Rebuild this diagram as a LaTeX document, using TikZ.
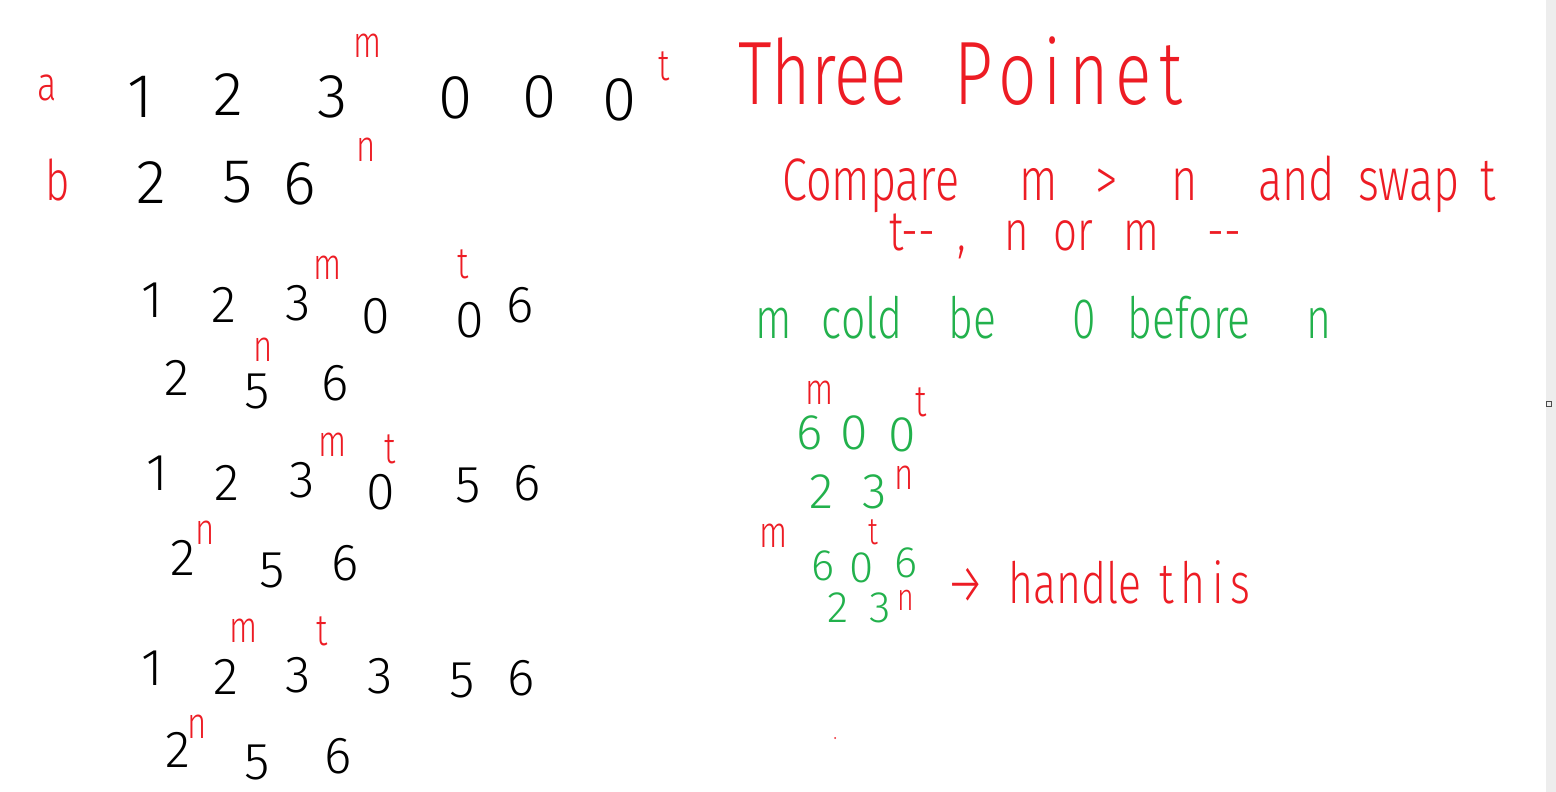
\documentclass[tikz,border=0pt]{standalone}
\usepackage{fontspec}
\newfontfamily\hand{Fira Sans Light}[FakeStretch=0.75]
\newfontfamily\digits{Fira Sans Light}
\definecolor{penred}{RGB}{237,28,36}
\definecolor{pengreen}{RGB}{34,177,76}

\begin{document}
\begin{tikzpicture}[x=1pt, y=-1pt,
  digit/.style={font=\digits\fontsize{#1}{#1}\selectfont, inner sep=0pt},
  digit/.default=52,
  ptr/.style={font=\hand\fontsize{44}{44}\selectfont, text=penred, inner sep=0pt},
  note/.style={font=\hand\fontsize{60}{60}\selectfont, text=penred, anchor=base west, inner sep=0pt},
  aside/.style={font=\hand\fontsize{57}{57}\selectfont, text=pengreen, anchor=base west, inner sep=0pt}]
\useasboundingbox (0,0) rectangle (1556,792);
\fill[white] (0,0) rectangle (1556,792);
\fill[black!7] (1546,0) rectangle (1556,792);
\draw[black!70, line width=0.8pt] (1546.5,401.5) rectangle (1551,406);

% the two input arrays
\node[ptr, font=\hand\fontsize{48}{48}\selectfont] (la) at (47,88) {a};
\node[ptr, font=\hand\fontsize{56}{56}\selectfont] (lb) at (58,180) {b};
\foreach \v/\x/\y [count=\i] in {1/140/97, 2/228/95, 3/333/97, 0/456/98, 0/540/97, 0/620/100}
  \node[digit=62] (a\i) at (\x,\y) {\v};
\foreach \v/\x/\y [count=\i] in {2/151/183, 5/238/182, 6/300/184}
  \node[digit=62] (b\i) at (\x,\y) {\v};
\node[ptr] (am) at (368,46) {m};
\node[ptr] (at) at (664,66) {t};
\node[ptr] (bn) at (366,150) {n};

% steps of the merge
\foreach \v/\x/\y [count=\i] in {1/152/300, 2/224/305, 3/298/303, 0/376/316, 0/470/320, 6/520/305}
  \node[digit] (p\i) at (\x,\y) {\v};
\foreach \v/\x/\y [count=\i] in {2/177/378, 5/257/391, 6/335/383}
  \node[digit] (q\i) at (\x,\y) {\v};
\node[ptr] (pm) at (328,268) {m};
\node[ptr] (pt) at (463,264) {t};
\node[ptr] (qn) at (263,350) {n};

\foreach \v/\x/\y [count=\i] in {1/157/473, 2/227/483, 3/302/480, 0/381/492, 5/468/485, 6/527/483}
  \node[digit] (r\i) at (\x,\y) {\v};
\foreach \v/\x/\y [count=\i] in {2/183/558, 5/272/570, 6/345/563}
  \node[digit] (s\i) at (\x,\y) {\v};
\node[ptr] (rm) at (333,445) {m};
\node[ptr] (rt) at (390,449) {t};
\node[ptr] (sn) at (205,533) {n};

\foreach \v/\x/\y [count=\i] in {1/152/668, 2/226/677, 3/298/675, 3/380/676, 5/462/680, 6/521/678}
  \node[digit] (u\i) at (\x,\y) {\v};
\foreach \v/\x/\y [count=\i] in {2/178/750, 5/257/762, 6/338/756}
  \node[digit] (w\i) at (\x,\y) {\v};
\node[ptr] (um) at (244,631) {m};
\node[ptr] (ut) at (322,631) {t};
\node[ptr] (wn) at (197,727) {n};
\fill[penred] (835,738) circle (1);

% notes on the right
\node[note, font=\hand\fontsize{90}{90}\selectfont] (title) at (738,104) {Three\hspace{48pt}{\addfontfeature{LetterSpace=8}Poinet}};
\node[note] (rule) at (782,200) {Compare\hspace{60pt}m\hspace{38pt}>\hspace{53pt}n\hspace{61pt}and\hspace{23pt}swap\hspace{20pt}t};
\node[note, font=\hand\fontsize{56}{56}\selectfont] (step) at (889,250) {t-{}-\hspace{22pt},\hspace{38pt}n\hspace{25pt}or\hspace{30pt}m\hspace{48pt}-{}-};
\node[aside] (hint) at (755,338) {m\hspace{30pt}cold\hspace{46pt}be\hspace{76pt}0\hspace{32pt}before\hspace{56pt}n};

% edge cases
\foreach \v/\x/\y [count=\i] in {6/810/433, 0/854/433, 0/902/435}
  \node[digit=50, text=pengreen] (c\i) at (\x,\y) {\v};
\foreach \v/\x/\y [count=\i] in {2/821/492, 3/875/492}
  \node[digit=50, text=pengreen] (d\i) at (\x,\y) {\v};
\node[ptr] (cm) at (820,393) {m};
\node[ptr] (ct) at (921,402) {t};
\node[ptr] (dn) at (904,478) {n};

\foreach \v/\x/\y [count=\i] in {6/823/566, 0/862/568, 6/906/563}
  \node[digit=44, text=pengreen] (e\i) at (\x,\y) {\v};
\foreach \v/\x/\y [count=\i] in {2/838/608, 3/880/608}
  \node[digit=44, text=pengreen] (f\i) at (\x,\y) {\v};
\node[ptr] (em) at (774,536) {m};
\node[ptr, font=\hand\fontsize{38}{38}\selectfont] (et) at (873,532) {t};
\node[ptr, font=\hand\fontsize{38}{38}\selectfont] (fn) at (906,600) {n};
\node[note, font=\hand\fontsize{57}{57}\selectfont] (todo) at (946,603) {→\hspace{24pt}handle\hspace{18pt}{\addfontfeature{LetterSpace=12}this}};
\end{tikzpicture}
\end{document}
